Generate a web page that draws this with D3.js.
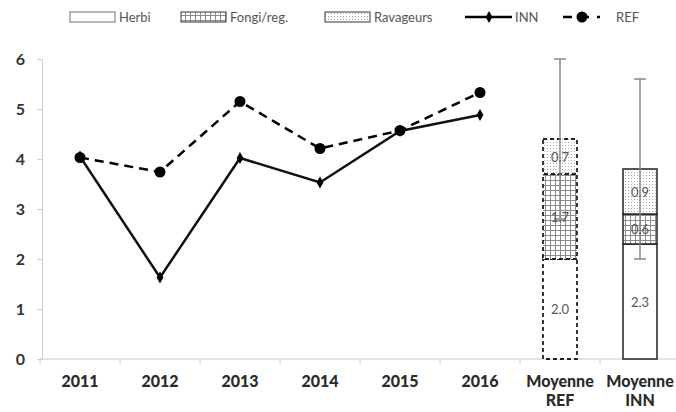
<!DOCTYPE html>
<html>
<head>
<meta charset="utf-8">
<script src="https://cdn.jsdelivr.net/npm/d3@7"></script>
<style>
  html, body { margin: 0; padding: 0; background: #fff; }
  svg { display: block; }
</style>
</head>
<body>
<div id="chart"></div>
<script>
// Categories along the x axis
const years = ["2011", "2012", "2013", "2014", "2015", "2016"];
const meanCats = ["Moyenne REF", "Moyenne INN"];
const categories = years.concat(meanCats);

// Yearly series
const innValues = [4.05, 1.63, 4.02, 3.53, 4.56, 4.88];
const refValues = [4.03, 3.74, 5.15, 4.21, 4.57, 5.33];

// Stacked means: Herbi, Fongi/reg., Ravageurs
const segmentNames = ["Herbi", "Fongi/reg.", "Ravageurs"];
const meanRef = [2.0, 1.7, 0.7];
const meanInn = [2.3, 0.6, 0.9];
// Error bars (low, high) for each mean
const errRef = [2.8, 6.0];
const errInn = [2.0, 5.6];

const yTicks = [0, 1, 2, 3, 4, 5, 6];

const W = 676, H = 412;
const svg = d3.select("#chart").append("svg").attr("width", W).attr("height", H);

const defs = svg.append("defs");
// grid hatch for Fongi/reg.
const pg = defs.append("pattern").attr("id", "gridPat").attr("patternUnits", "userSpaceOnUse")
  .attr("width", 5).attr("height", 5);
pg.append("rect").attr("width", 5).attr("height", 5).attr("fill", "#fff");
pg.append("path").attr("d", "M0,0.5H5M0.5,0V5").attr("stroke", "#8c8c8c").attr("stroke-width", 1);
// fine dots for Ravageurs
const pd = defs.append("pattern").attr("id", "dotPat").attr("patternUnits", "userSpaceOnUse")
  .attr("width", 3).attr("height", 3);
pd.append("rect").attr("width", 3).attr("height", 3).attr("fill", "#fff");
pd.append("rect").attr("x", 1).attr("y", 1).attr("width", 1).attr("height", 1).attr("fill", "#a8a8a8");

const fills = ["#fff", "url(#gridPat)", "url(#dotPat)"];

const x = d3.scaleBand().domain(categories).range([40, 680]);
const y = d3.scaleLinear().domain([0, 6]).range([359, 59]);

const font = "Lato, 'Open Sans', sans-serif";

// y axis
const yAxis = svg.append("g").attr("transform", "translate(42,0)")
  .call(d3.axisLeft(y).tickValues(yTicks).tickSize(5).tickPadding(12).tickFormat(d3.format("d")));
yAxis.select(".domain").attr("stroke", "#d0d0d0");
yAxis.selectAll(".tick line").attr("stroke", "#d0d0d0");
yAxis.selectAll(".tick text").attr("font-family", font).attr("font-weight", "bold")
  .attr("font-size", 16).attr("fill", "#333");

// x axis line with boundary ticks
const xg = svg.append("g");
xg.append("line").attr("x1", 40).attr("x2", 680).attr("y1", y(0)).attr("y2", y(0))
  .attr("stroke", "#c8c8c8").attr("stroke-width", 1.2);
categories.forEach(c => {
  const bx = x(c);
  xg.append("line").attr("x1", bx).attr("x2", bx).attr("y1", y(0)).attr("y2", y(0) + 5)
    .attr("stroke", "#c8c8c8");
});
categories.forEach(c => {
  const cx = x(c) + x.bandwidth() / 2;
  const parts = c.split(" ");
  const t = xg.append("text").attr("x", cx).attr("y", 387).attr("text-anchor", "middle")
    .attr("font-family", font).attr("font-weight", "900").attr("font-size", 16).attr("fill", "#2a2a2a");
  parts.forEach((p, i) => {
    t.append("tspan").attr("x", cx).attr("dy", i === 0 ? 0 : 19).text(p);
  });
});

// stacked mean bars
const barW = 34;
function drawStack(cat, vals, err, dashed) {
  const cx = x(cat) + x.bandwidth() / 2;
  let base = 0;
  const g = svg.append("g");
  vals.forEach((v, i) => {
    const top = base + v;
    g.append("rect").attr("x", cx - barW / 2).attr("y", y(top)).attr("width", barW)
      .attr("height", y(base) - y(top)).attr("fill", fills[i])
      .attr("stroke", "#222").attr("stroke-width", dashed ? 1.8 : 1.5)
      .attr("stroke-dasharray", dashed ? "4,3" : null);
    base = top;
  });
  // error bar
  g.append("line").attr("x1", cx).attr("x2", cx).attr("y1", y(err[0])).attr("y2", y(err[1]))
    .attr("stroke", "#8a8a8a").attr("stroke-width", 1.5);
  err.forEach(e => {
    g.append("line").attr("x1", cx - 6).attr("x2", cx + 6).attr("y1", y(e)).attr("y2", y(e))
      .attr("stroke", "#8a8a8a").attr("stroke-width", 1.5);
  });
  // value labels
  base = 0;
  vals.forEach(v => {
    const mid = base + v / 2;
    g.append("text").attr("x", cx).attr("y", y(mid) + 5).attr("text-anchor", "middle")
      .attr("font-family", font).attr("font-size", 13).attr("fill", "#555")
      .text(d3.format(".1f")(v));
    base += v;
  });
}
drawStack("Moyenne REF", meanRef, errRef, true);
drawStack("Moyenne INN", meanInn, errInn, false);

// yearly lines
const xc = d => x(d) + x.bandwidth() / 2;
const line = d3.line().x(d => xc(d.k)).y(d => y(d.v));
const refData = years.map((k, i) => ({ k, v: refValues[i] }));
const innData = years.map((k, i) => ({ k, v: innValues[i] }));

svg.append("path").datum(refData).attr("d", line).attr("fill", "none")
  .attr("stroke", "#000").attr("stroke-width", 2.5).attr("stroke-dasharray", "9,6");
svg.append("path").datum(innData).attr("d", line).attr("fill", "none")
  .attr("stroke", "#111").attr("stroke-width", 2.5);

svg.selectAll(".refpt").data(refData).enter().append("circle")
  .attr("cx", d => xc(d.k)).attr("cy", d => y(d.v)).attr("r", 5.5).attr("fill", "#000");
const diamond = d3.symbol().type(d3.symbolDiamond).size(40);
svg.selectAll(".innpt").data(innData).enter().append("path")
  .attr("d", diamond).attr("transform", d => `translate(${xc(d.k)},${y(d.v)})`).attr("fill", "#000");

// legend
const lg = svg.append("g").attr("font-family", font).attr("font-size", 13).attr("fill", "#555");
const ly = 17;
const swX = [70, 181, 325];
segmentNames.forEach((n, i) => {
  lg.append("rect").attr("x", swX[i]).attr("y", ly - 5).attr("width", 45).attr("height", 10)
    .attr("fill", fills[i]).attr("stroke", i === 0 ? "#888" : "#555").attr("stroke-width", 1.2);
  lg.append("text").attr("x", swX[i] + 49).attr("y", ly + 5).text(n);
});
lg.append("line").attr("x1", 465).attr("x2", 512).attr("y1", ly).attr("y2", ly)
  .attr("stroke", "#000").attr("stroke-width", 2.5);
lg.append("path").attr("d", diamond).attr("transform", `translate(489,${ly})`).attr("fill", "#000");
lg.append("text").attr("x", 515).attr("y", ly + 5).text("INN");
lg.append("line").attr("x1", 563).attr("x2", 600).attr("y1", ly).attr("y2", ly)
  .attr("stroke", "#000").attr("stroke-width", 2.5).attr("stroke-dasharray", "9,8");
lg.append("circle").attr("cx", 582).attr("cy", ly).attr("r", 5.5).attr("fill", "#000");
lg.append("text").attr("x", 616).attr("y", ly + 5).text("REF");
</script>
</body>
</html>
